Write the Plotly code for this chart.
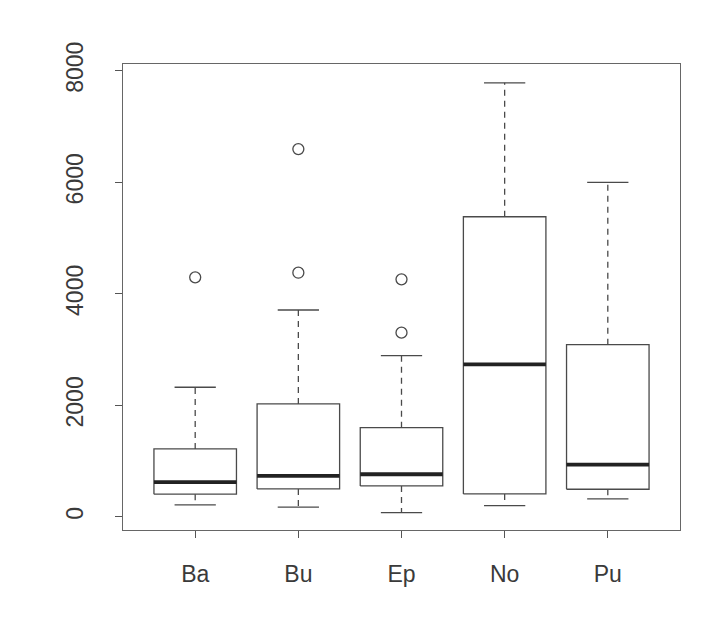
import plotly.graph_objects as go

categories = ["Ba", "Bu", "Ep", "No", "Pu"]
lower_whisker = [215, 174, 77, 203, 323]
q1 = [407, 502, 556, 412, 496]
median = [622, 735, 765, 2736, 937]
q3 = [1219, 2025, 1600, 5381, 3088]
upper_whisker = [2324, 3709, 2891, 7783, 5998]
outlier_cat = ["Ba", "Bu", "Bu", "Ep", "Ep"]
outlier_val = [4295, 4378, 6595, 3303, 4259]
y_ticks = [0, 2000, 4000, 6000, 8000]

LINE = "#4a4a4a"
BOXW = 0.4
CAPW = 0.2

fig = go.Figure()
for i, cat in enumerate(categories):
    x = i + 1
    # box
    fig.add_trace(go.Scatter(
        x=[x - BOXW, x + BOXW, x + BOXW, x - BOXW, x - BOXW],
        y=[q1[i], q1[i], q3[i], q3[i], q1[i]],
        mode="lines", line=dict(color=LINE, width=1.3),
        showlegend=False, hoverinfo="skip"))
    # whiskers (dashed)
    fig.add_trace(go.Scatter(
        x=[x, x, None, x, x],
        y=[q3[i], upper_whisker[i], None, q1[i], lower_whisker[i]],
        mode="lines", line=dict(color=LINE, width=1.3, dash="6px,5px"),
        showlegend=False, hoverinfo="skip"))
    # caps
    fig.add_trace(go.Scatter(
        x=[x - CAPW, x + CAPW, None, x - CAPW, x + CAPW],
        y=[upper_whisker[i], upper_whisker[i], None, lower_whisker[i], lower_whisker[i]],
        mode="lines", line=dict(color=LINE, width=1.3),
        showlegend=False, hoverinfo="skip"))
    # median
    fig.add_trace(go.Scatter(
        x=[x - BOXW, x + BOXW],
        y=[median[i], median[i]],
        mode="lines", line=dict(color="#222222", width=3.8),
        showlegend=False, hoverinfo="skip"))

fig.add_trace(go.Scatter(
    x=[categories.index(c) + 1 for c in outlier_cat],
    y=outlier_val,
    mode="markers",
    marker=dict(symbol="circle-open", size=11, color=LINE, line=dict(width=1.3, color=LINE)),
    showlegend=False, hoverinfo="skip"))

font = dict(family="Liberation Sans, Arial, sans-serif", size=23, color="#3a3a3a")

fig.update_layout(
    width=716, height=618,
    margin=dict(l=115, r=44, t=56, b=96),
    paper_bgcolor="white", plot_bgcolor="white",
    font=font,
    xaxis=dict(
        range=[0.3, 5.7],
        tickmode="array", tickvals=[1, 2, 3, 4, 5], ticktext=categories,
        ticks="outside", ticklen=7, tickcolor="#555555", tickwidth=1.2,
        showline=True, linecolor="#666666", linewidth=1.4, mirror=True,
        showgrid=False, zeroline=False,
        ticklabelstandoff=16,
    ),
    yaxis=dict(
        range=[-235, 8120],
        tickmode="array", tickvals=y_ticks, ticktext=[str(v) for v in y_ticks],
        tickangle=-90,
        ticks="outside", ticklen=7, tickcolor="#555555", tickwidth=1.2,
        showline=True, linecolor="#666666", linewidth=1.4, mirror=True,
        showgrid=False, zeroline=False,
        ticklabelstandoff=23,
    ),
)

fig.write_html("out.html")
